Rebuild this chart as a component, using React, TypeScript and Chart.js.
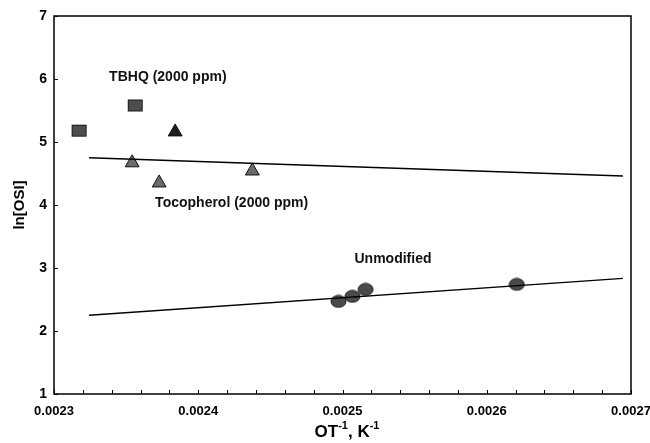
import { useEffect, useRef } from "react";
import { Chart, registerables } from "chart.js";

Chart.register(...registerables);

// Oxidative stability: ln[OSI] versus inverse oven temperature
const tbhqX = [0.0023174, 0.0023563];
const tbhqY = [5.18, 5.58];
const tocoDarkX = [0.002384];
const tocoDarkY = [5.16];
const tocoX = [0.0023542, 0.0023729, 0.0024375];
const tocoY = [4.67, 4.35, 4.54];
const unmodX = [0.0024972, 0.0025069, 0.002516, 0.0026208];
const unmodY = [2.47, 2.55, 2.66, 2.74];

// Regression lines (end points)
const tocoFitX = [0.0023243, 0.0026944];
const tocoFitY = [4.75, 4.46];
const unmodFitX = [0.0023243, 0.0026944];
const unmodFitY = [2.25, 2.835];

const xTicks = [0.0023, 0.0024, 0.0025, 0.0026, 0.0027];
const yTicks = [1, 2, 3, 4, 5, 6, 7];

const annotationText = ["TBHQ (2000 ppm)", "Tocopherol (2000 ppm)", "Unmodified"];
const annotationX = [0.0023382, 0.0023701, 0.0025083];
const annotationY = [6.03, 4.03, 3.14];

const FONT = "'Liberation Sans', Arial, sans-serif";

const pts = (xs: number[], ys: number[]) => xs.map((x, i) => ({ x, y: ys[i] }));

function makeMarker(kind: "square" | "ellipse", fill: string, stroke: string) {
  const c = document.createElement("canvas");
  c.width = 17;
  c.height = 14;
  const g = c.getContext("2d")!;
  g.fillStyle = fill;
  g.strokeStyle = stroke;
  g.lineWidth = 1;
  if (kind === "square") {
    g.fillRect(1, 1, 15, 12);
    g.strokeRect(1.5, 1.5, 14, 11);
  } else {
    g.beginPath();
    g.ellipse(8.5, 7, 7.5, 6, 0, 0, Math.PI * 2);
    g.fill();
    g.stroke();
  }
  return c;
}

const framePlugin = {
  id: "frameAndText",
  afterDraw(chart: any) {
    const { ctx, chartArea: a, scales } = chart;
    const xs = scales.x;
    const ys = scales.y;
    ctx.save();
    ctx.strokeStyle = "#000";
    ctx.lineWidth = 1.5;
    ctx.strokeRect(a.left, a.top, a.right - a.left, a.bottom - a.top);

    // inward minor ticks on the x axis
    ctx.lineWidth = 1;
    for (let v = 0.0023; v <= 0.00270001; v += 0.00002) {
      const px = Math.round(xs.getPixelForValue(v)) + 0.5;
      ctx.beginPath();
      ctx.moveTo(px, a.bottom);
      ctx.lineTo(px, a.bottom - 4);
      ctx.stroke();
    }
    // inward ticks on the y axis
    for (const v of yTicks) {
      const py = Math.round(ys.getPixelForValue(v)) + 0.5;
      ctx.beginPath();
      ctx.moveTo(a.left, py);
      ctx.lineTo(a.left + 4, py);
      ctx.stroke();
    }

    // annotations
    ctx.fillStyle = "#111";
    ctx.font = `bold 14px ${FONT}`;
    ctx.textAlign = "left";
    ctx.textBaseline = "middle";
    annotationText.forEach((t, i) => {
      ctx.fillText(t, xs.getPixelForValue(annotationX[i]), ys.getPixelForValue(annotationY[i]));
    });

    // y axis title
    ctx.fillStyle = "#000";
    ctx.font = `bold 15px ${FONT}`;
    ctx.save();
    ctx.translate(20, (a.top + a.bottom) / 2);
    ctx.rotate(-Math.PI / 2);
    ctx.textAlign = "center";
    ctx.fillText("ln[OSI]", 0, 0);
    ctx.restore();

    // x axis title with superscripts
    const parts: [string, boolean][] = [
      ["OT", false],
      ["-1", true],
      [", K", false],
      ["-1", true],
    ];
    const big = `bold 17px ${FONT}`;
    const small = `bold 11px ${FONT}`;
    let total = 0;
    for (const [t, sup] of parts) {
      ctx.font = sup ? small : big;
      total += ctx.measureText(t).width;
    }
    let x = 347 - total / 2;
    const base = 437;
    ctx.textAlign = "left";
    ctx.textBaseline = "alphabetic";
    for (const [t, sup] of parts) {
      ctx.font = sup ? small : big;
      ctx.fillText(t, x, sup ? base - 8 : base);
      x += ctx.measureText(t).width;
    }
    ctx.restore();
  },
};

export default function App() {
  const ref = useRef<HTMLCanvasElement>(null);

  useEffect(() => {
    const squareImg = makeMarker("square", "#4d4d4d", "#1a1a1a");
    const ellipseImg = makeMarker("ellipse", "#4a4a4a", "#1a1a1a");

    const chart = new Chart(ref.current!, {
      type: "scatter",
      data: {
        datasets: [
          {
            label: "Tocopherol fit",
            data: pts(tocoFitX, tocoFitY),
            showLine: true,
            borderColor: "#000",
            borderWidth: 1.3,
            pointRadius: 0,
          },
          {
            label: "Unmodified fit",
            data: pts(unmodFitX, unmodFitY),
            showLine: true,
            borderColor: "#000",
            borderWidth: 1.3,
            pointRadius: 0,
          },
          {
            label: "TBHQ",
            data: pts(tbhqX, tbhqY),
            pointStyle: squareImg as any,
            pointRadius: 7,
          },
          {
            label: "Tocopherol",
            data: pts(tocoDarkX, tocoDarkY),
            pointStyle: "triangle",
            pointRadius: 8,
            backgroundColor: "#1e1e1e",
            borderColor: "#111",
            borderWidth: 1,
          },
          {
            label: "Tocopherol",
            data: pts(tocoX, tocoY),
            pointStyle: "triangle",
            pointRadius: 8,
            backgroundColor: "#6a6a6a",
            borderColor: "#111",
            borderWidth: 1,
          },
          {
            label: "Unmodified",
            data: pts(unmodX, unmodY),
            pointStyle: ellipseImg as any,
            pointRadius: 7,
          },
        ],
      },
      options: {
        responsive: false,
        animation: false,
        events: [],
        layout: { padding: { top: 16, right: 19, left: 0, bottom: 0 } },
        plugins: { legend: { display: false }, tooltip: { enabled: false } },
        scales: {
          x: {
            type: "linear",
            min: 0.0023,
            max: 0.0027,
            grid: { display: false, drawTicks: false, tickLength: 0 },
            border: { display: false },
            afterBuildTicks: (s: any) => {
              s.ticks = xTicks.map((v) => ({ value: v }));
            },
            afterFit: (s: any) => {
              s.height = 49;
              s.paddingLeft = 0;
              s.paddingRight = 0;
            },
            ticks: {
              padding: 10,
              color: "#000",
              font: { family: FONT, size: 13, weight: "bold" },
              callback: (v: any) => Number(v).toFixed(4),
              maxRotation: 0,
            },
          },
          y: {
            min: 1,
            max: 7,
            grid: { display: false, drawTicks: false, tickLength: 0 },
            border: { display: false },
            afterBuildTicks: (s: any) => {
              s.ticks = yTicks.map((v) => ({ value: v }));
            },
            afterFit: (s: any) => {
              s.width = 54;
              s.paddingTop = 0;
              s.paddingBottom = 0;
            },
            ticks: {
              padding: 7,
              color: "#000",
              font: { family: FONT, size: 14, weight: "bold" },
            },
          },
        },
      },
      plugins: [framePlugin],
    });
    return () => chart.destroy();
  }, []);

  return (
    <div style={{ position: "fixed", left: 0, top: 0, width: 650, height: 443, background: "#fff" }}>
      <canvas ref={ref} width={650} height={443} style={{ display: "block" }} />
    </div>
  );
}
